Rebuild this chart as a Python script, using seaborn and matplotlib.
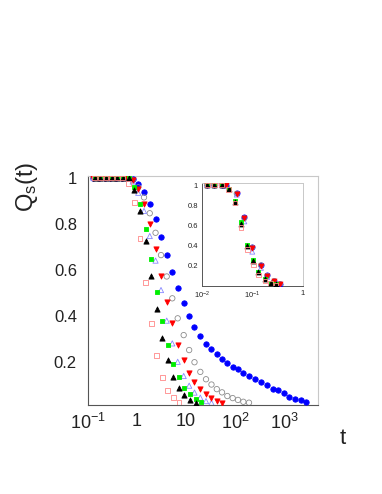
import matplotlib
matplotlib.use("Agg")
import matplotlib.pyplot as plt
import seaborn as sns
import pandas as pd
from matplotlib.ticker import FixedLocator, NullFormatter, FixedFormatter, LogLocator, MultipleLocator

# ---------------- data ----------------
# main panel: time grid B (blue, grey, red, light blue)
t_B = [0.129, 0.168, 0.219, 0.285, 0.371, 0.483, 0.628, 0.817, 1.06, 1.39, 1.82, 2.39,
       3.09, 4.04, 5.25, 6.77, 8.97, 11.6, 14.9, 19.6, 25.6, 33.1, 42.5, 54.3, 69.7, 89.7,
       115, 148, 193, 256, 340, 450, 588, 766, 986, 1283, 1676, 2193, 2812]
q_blue = [1, 1, 1, 1, 1, 1, 1, 0.994, 0.974, 0.938, 0.886, 0.820, 0.745, 0.667, 0.593,
          0.520, 0.457, 0.400, 0.352, 0.313, 0.280, 0.256, 0.234, 0.213, 0.194, 0.180,
          0.168, 0.154, 0.139, 0.126, 0.115, 0.100, 0.084, 0.077, 0.067, 0.049, 0.038,
          0.033, 0.027]
q_grey = [1, 1, 1, 1, 1, 1, 1, 0.99, 0.96, 0.916, 0.847, 0.762, 0.665, 0.572, 0.477,
          0.390, 0.317, 0.252, 0.199, 0.157, 0.125, 0.102, 0.082, 0.068, 0.052, 0.043,
          0.035, 0.027, 0.023]
q_red = [1, 1, 1, 1, 1, 1, 1, 0.99, 0.951, 0.887, 0.799, 0.691, 0.574, 0.462, 0.368,
         0.274, 0.207, 0.154, 0.113, 0.082, 0.060, 0.043, 0.030, 0.023]
q_lblue = [1, 1, 1, 1, 1, 1, 1, 0.985, 0.936, 0.857, 0.748, 0.641, 0.513, 0.380, 0.281,
           0.201, 0.139, 0.097, 0.067, 0.045, 0.030, 0.023]
# main panel: time grid A (green, black, pink)
t_A = [0.136, 0.178, 0.232, 0.303, 0.395, 0.514, 0.671, 0.881, 1.151, 1.505, 1.949,
       2.523, 3.283, 4.252, 5.533, 7.195, 9.27, 12.07, 15.85, 20.5]
q_green = [1, 1, 1, 1, 1, 1, 1.0, 0.959, 0.889, 0.780, 0.647, 0.506, 0.378, 0.274,
           0.191, 0.133, 0.089, 0.061, 0.038, 0.025]
q_black = [1, 1, 1, 1, 1, 1, 1.0, 0.947, 0.857, 0.726, 0.574, 0.430, 0.303, 0.209,
           0.133, 0.086, 0.057, 0.035, 0.023]
q_pink = [1, 1, 1, 1, 1, 1, 0.976, 0.894, 0.737, 0.547, 0.368, 0.228, 0.132, 0.076,
          0.045, 0.024]

# inset (scaled time)
ti_B = [0.0127, 0.0175, 0.0245, 0.0294, 0.0487, 0.0689, 0.099, 0.147, 0.196, 0.270, 0.351]
qi_blue = [1, 1, 1, 1.0, 0.918, 0.68, 0.39, 0.21, 0.105, 0.05, 0.02]
qi_grey = [1, 1, 1, 1.0, 0.915, 0.67, 0.38, 0.205, 0.10, 0.048, 0.018]
qi_red = [1, 1, 1, 1.0, 0.915, 0.67, 0.375, 0.20, 0.10, 0.048, 0.018]
qi_lblue = [1, 1, 1, 0.99, 0.905, 0.64, 0.34, 0.18, 0.09, 0.045, 0.015]
ti_A = [0.0127, 0.0175, 0.0245, 0.0338, 0.045, 0.059, 0.0788, 0.104, 0.130, 0.177, 0.229, 0.292]
qi_green = [1, 1, 1, 0.965, 0.84, 0.63, 0.41, 0.255, 0.14, 0.07, 0.033, 0.015]
qi_black = [1, 1, 1, 0.96, 0.835, 0.615, 0.40, 0.245, 0.135, 0.068, 0.032, 0.015]
qi_pink = [1, 1, 1, 0.955, 0.82, 0.58, 0.36, 0.21, 0.11, 0.05, 0.025, 0.01]

main_xticks = [0.1, 1, 10, 100, 1000]
main_xlabels = ["$10^{-1}$", "1", "10", "$10^{2}$", "$10^{3}$"]
main_yticks = [0.2, 0.4, 0.6, 0.8, 1.0]
main_ylabels = ["0.2", "0.4", "0.6", "0.8", "1"]
ins_xticks = [0.01, 0.1, 1]
ins_xlabels = ["$10^{-2}$", "$10^{-1}$", "1"]

# ---------------- style ----------------
sns.set_theme(style="white")
plt.rcParams["font.family"] = ["Liberation Sans", "DejaVu Sans"]
plt.rcParams["mathtext.fontset"] = "custom"
plt.rcParams["mathtext.rm"] = "Liberation Sans"
plt.rcParams["mathtext.it"] = "Liberation Sans:italic"
plt.rcParams["mathtext.default"] = "regular"

series = [
    # name, t, q, t_in, q_in, marker, face, edge
    ("blue", t_B, q_blue, ti_B, qi_blue, "o", "#0000ff", "#0000ff"),
    ("grey", t_B, q_grey, ti_B, qi_grey, "o", "none", "#8c8c8c"),
    ("lblue", t_B, q_lblue, ti_B, qi_lblue, "^", "none", "#8888ff"),
    ("red", t_B, q_red, ti_B, qi_red, "v", "#ff0000", "#ff0000"),
    ("green", t_A, q_green, ti_A, qi_green, "s", "#00ee00", "#00ee00"),
    ("black", t_A, q_black, ti_A, qi_black, "^", "#000000", "#000000"),
    ("pink", t_A, q_pink, ti_A, qi_pink, "s", "none", "#ff8888"),
]
sizes = {"o": 15, "^": 14, "v": 14, "s": 12}

fig = plt.figure(figsize=(3.82, 4.94), dpi=100)
ax = fig.add_axes([88 / 382, 1 - 405 / 494, 230 / 382, 229 / 494])
axi = fig.add_axes([202 / 382, 1 - 286 / 494, 101 / 382, 103 / 494])

for name, t, q, ti, qi, mk, fc, ec in series:
    df = pd.DataFrame({"t": t[:len(q)], "q": q})
    sns.scatterplot(data=df, x="t", y="q", ax=ax, marker=mk, s=sizes[mk],
                    facecolors=fc, edgecolors=ec, linewidths=0.6, legend=False, zorder=3)
    dfi = pd.DataFrame({"t": ti[:len(qi)], "q": qi})
    sns.scatterplot(data=dfi, x="t", y="q", ax=axi, marker=mk, s=sizes[mk] * 0.9,
                    facecolors=fc, edgecolors=ec, linewidths=0.6, legend=False, zorder=3)

# main axes
ax.set_xscale("log")
ax.set_xlim(0.1, 4940)
ax.set_ylim(0.013, 1.009)
ax.set_xlabel("")
ax.set_ylabel("")
ax.xaxis.set_major_locator(FixedLocator(main_xticks))
ax.xaxis.set_major_formatter(FixedFormatter(main_xlabels))
ax.xaxis.set_minor_locator(LogLocator(base=10, subs=range(2, 10), numticks=20))
ax.xaxis.set_minor_formatter(NullFormatter())
ax.yaxis.set_major_locator(FixedLocator(main_yticks))
ax.yaxis.set_major_formatter(FixedFormatter(main_ylabels))
ax.yaxis.set_minor_locator(MultipleLocator(0.05))
ax.tick_params(which="both", direction="in", top=False, right=False, color="#444444")
ax.tick_params(which="major", length=8, width=0.8)
ax.tick_params(which="minor", length=4, width=0.6)
ax.tick_params(axis="y", labelsize=12, pad=8, labelcolor="#222222")
ax.tick_params(axis="x", labelsize=13, pad=6, labelcolor="#222222")
for s in ["left", "bottom"]:
    ax.spines[s].set_color("#555555")
    ax.spines[s].set_linewidth(0.8)
for s in ["top", "right"]:
    ax.spines[s].set_color("#c8c8c8")
    ax.spines[s].set_linewidth(0.8)

fig.text(27 / 382, 1 - 187 / 494, "$Q_{s}(t)$", rotation=90, ha="center", va="center",
         fontsize=17, color="#222222")
fig.text(343 / 382, 1 - 438 / 494, "t", ha="center", va="center", fontsize=16,
         color="#222222")

# inset axes
axi.set_xscale("log")
axi.set_xlim(0.01, 1)
axi.set_ylim(0.0, 1.02)
axi.set_xlabel("")
axi.set_ylabel("")
axi.xaxis.set_major_locator(FixedLocator(ins_xticks))
axi.xaxis.set_major_formatter(FixedFormatter(ins_xlabels))
axi.xaxis.set_minor_locator(LogLocator(base=10, subs=range(2, 10), numticks=20))
axi.xaxis.set_minor_formatter(NullFormatter())
axi.yaxis.set_major_locator(FixedLocator(main_yticks))
axi.yaxis.set_major_formatter(FixedFormatter(main_ylabels))
axi.yaxis.set_minor_locator(MultipleLocator(0.05))
axi.tick_params(which="both", direction="in", top=False, right=False, color="#444444")
axi.tick_params(which="major", length=4, width=0.6)
axi.tick_params(which="minor", length=2, width=0.5)
axi.tick_params(axis="both", labelsize=5.5, pad=3, labelcolor="#222222")
for s in ["left", "bottom"]:
    axi.spines[s].set_color("#555555")
    axi.spines[s].set_linewidth(0.7)
for s in ["top", "right"]:
    axi.spines[s].set_color("#c8c8c8")
    axi.spines[s].set_linewidth(0.7)

fig.savefig("out.png", dpi=100)
